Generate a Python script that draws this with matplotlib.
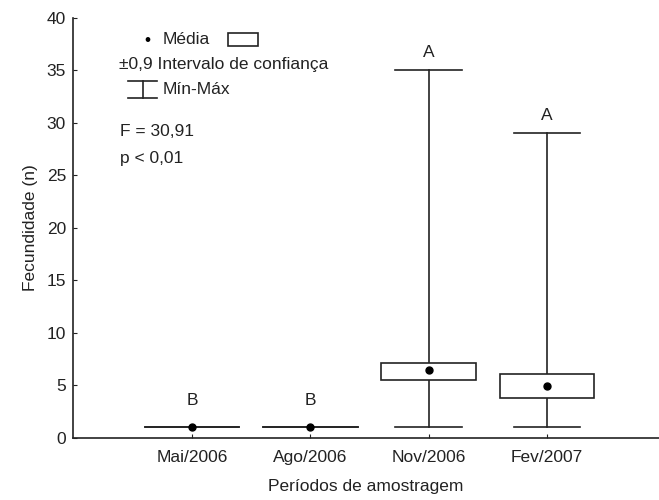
import numpy as np
import matplotlib.pyplot as plt
from matplotlib.patches import Rectangle

plt.rcParams['font.family'] = ['Liberation Sans', 'DejaVu Sans']

# data
periodos = ['Mai/2006', 'Ago/2006', 'Nov/2006', 'Fev/2007']
media = [1.0, 1.0, 6.4, 4.9]
ic_inf = [1.0, 1.0, 5.5, 3.75]
ic_sup = [1.0, 1.0, 7.15, 6.05]
minimo = [1.0, 1.0, 1.0, 1.0]
maximo = [1.0, 1.0, 35.0, 29.0]
letras = ['B', 'B', 'A', 'A']
letras_y = [3.5, 3.5, 36.7, 30.7]

cor = '#222222'
fs = 12.5
fig = plt.figure(figsize=(6.59, 5.0), dpi=100)
ax = fig.add_axes([0.1108, 0.125, 0.8892, 0.839])

x = np.arange(1, len(periodos) + 1)
for i in range(len(x)):
    xi = x[i]
    # whisker
    ax.plot([xi, xi], [minimo[i], maximo[i]], color=cor, lw=1.2, zorder=1)
    cap = 0.4 if maximo[i] == minimo[i] else 0.28
    ax.plot([xi - cap, xi + cap], [minimo[i], minimo[i]], color=cor, lw=1.2)
    ax.plot([xi - cap, xi + cap], [maximo[i], maximo[i]], color=cor, lw=1.2)
    # box
    if ic_sup[i] > ic_inf[i]:
        ax.add_patch(Rectangle((xi - 0.4, ic_inf[i]), 0.8, ic_sup[i] - ic_inf[i],
                               facecolor='white', edgecolor=cor, lw=1.2, zorder=2))
    ax.plot(xi, media[i], 'o', color='black', ms=5, zorder=3)
    ax.text(xi, letras_y[i], letras[i], ha='center', va='center', fontsize=fs, color=cor)

ax.set_xlim(-0.006, 4.948)
ax.set_ylim(0, 40)
ax.set_xticks(x)
ax.set_xticklabels(periodos, fontsize=fs)
ax.set_yticks(np.arange(0, 41, 5))
ax.tick_params(axis='y', labelsize=fs, direction='in', length=3, pad=5, color=cor, labelcolor=cor)
ax.tick_params(axis='x', direction='in', length=3, pad=9, color=cor, labelcolor=cor)
for s in ['top', 'right']:
    ax.spines[s].set_visible(False)
for s in ['left', 'bottom']:
    ax.spines[s].set_color(cor)
    ax.spines[s].set_linewidth(1.2)
ax.set_xlabel('Períodos de amostragem', fontsize=fs, color=cor, labelpad=10)
ax.set_ylabel('Fecundidade (n)', fontsize=fs, color=cor, labelpad=6)

# legend drawn by hand (pixel positions)
W, H = 659, 500
def fx(px):
    return px / W
def fy(py):
    return 1 - py / H

fig.text(fx(147), fy(40), '•', ha='center', va='center', fontsize=fs, color='black')
fig.text(fx(163), fy(40), 'Média', ha='left', va='center', fontsize=fs, color=cor)
fig.patches.append(Rectangle((fx(228), fy(46)), fx(258) - fx(228), fy(33) - fy(46),
                             transform=fig.transFigure, facecolor='white', edgecolor=cor, lw=1.2))
fig.text(fx(119), fy(65), '±0,9 Intervalo de confiança', ha='left', va='center', fontsize=fs, color=cor)
fig.add_artist(plt.Line2D([fx(128), fx(157)], [fy(81), fy(81)], transform=fig.transFigure, color=cor, lw=1.2))
fig.add_artist(plt.Line2D([fx(128), fx(157)], [fy(97.5), fy(97.5)], transform=fig.transFigure, color=cor, lw=1.2))
fig.add_artist(plt.Line2D([fx(143), fx(143)], [fy(81), fy(97.5)], transform=fig.transFigure, color=cor, lw=1.2))
fig.text(fx(163), fy(90), 'Mín-Máx', ha='left', va='center', fontsize=fs, color=cor)
fig.text(fx(120), fy(132), 'F = 30,91', ha='left', va='center', fontsize=fs, color=cor)
fig.text(fx(120), fy(158), 'p < 0,01', ha='left', va='center', fontsize=fs, color=cor)

plt.savefig('out.png', dpi=100)
